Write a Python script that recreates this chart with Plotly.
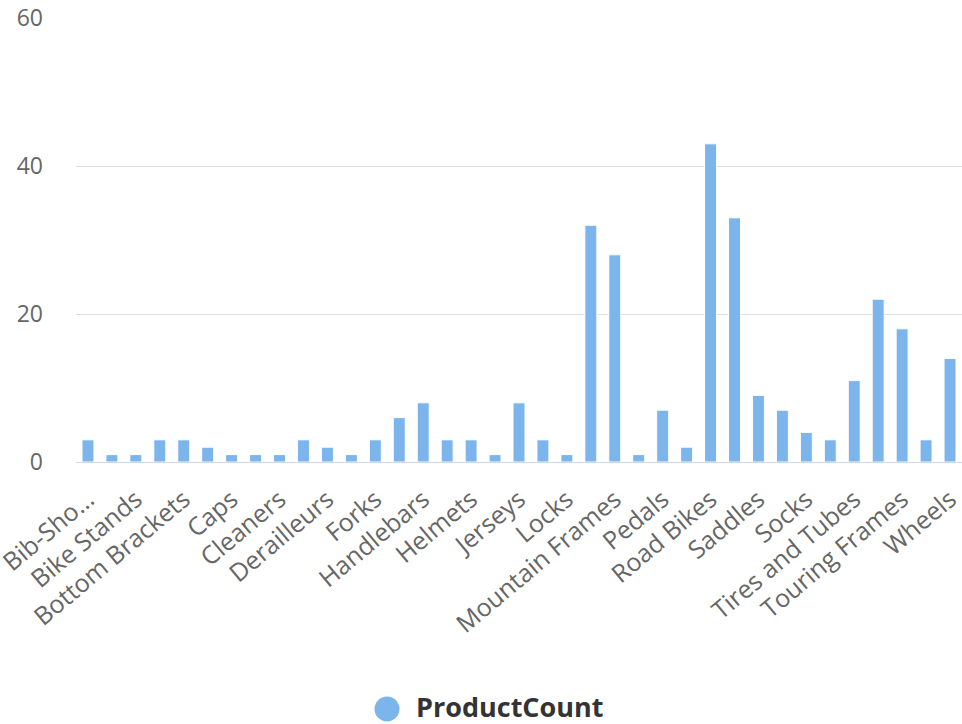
import plotly.graph_objects as go

# Product subcategories and how many products each holds
subcategories = [
    "Bib-Shorts", "Bike Racks", "Bike Stands", "Bottles and Cages", "Bottom Brackets",
    "Brakes", "Caps", "Chains", "Cleaners", "Cranksets", "Derailleurs", "Fenders",
    "Forks", "Gloves", "Handlebars", "Headsets", "Helmets", "Hydration Packs",
    "Jerseys", "Lights", "Locks", "Mountain Bikes", "Mountain Frames", "Panniers",
    "Pedals", "Pumps", "Road Bikes", "Road Frames", "Saddles", "Shorts", "Socks",
    "Tights", "Tires and Tubes", "Touring Bikes", "Touring Frames", "Vests", "Wheels",
]
product_count = [
    3, 1, 1, 3, 3,
    2, 1, 1, 1, 3, 2, 1,
    3, 6, 8, 3, 3, 1,
    8, 3, 1, 32, 28, 1,
    7, 2, 43, 33, 9, 7, 4,
    3, 11, 22, 18, 3, 14,
]
series_name = "ProductCount"

# Every other category gets a label; long ones are cut short with an ellipsis
label_positions = subcategories[::2]
label_texts = ["Bib-Sho…"] + label_positions[1:]

y_ticks = [0, 20, 40, 60]

bar_color = "#7cb5ec"
font_family = "Open Sans, Segoe UI, sans-serif"

fig = go.Figure()
fig.add_trace(go.Bar(
    x=subcategories,
    y=product_count,
    name=series_name,
    marker=dict(color=bar_color, line=dict(color="#ffffff", width=1)),
    showlegend=False,
))

fig.update_layout(
    width=962,
    height=724,
    margin=dict(l=76, r=0, t=18, b=262),
    paper_bgcolor="#ffffff",
    plot_bgcolor="#ffffff",
    bargap=0.5,
    font=dict(family=font_family, size=22, color="#666666"),
    xaxis=dict(
        type="category",
        tickmode="array",
        tickvals=label_positions,
        ticktext=label_texts,
        tickangle=-40,
        tickfont=dict(size=25, color="#666666"),
        showgrid=False,
        showline=True,
        linecolor="#ccd6eb",
        linewidth=1,
        ticks="",
        ticklabelstandoff=12,
        automargin=False,
        range=[-0.5, len(subcategories) - 0.5],
    ),
    yaxis=dict(
        range=[0, 60],
        tickvals=y_ticks,
        tickfont=dict(size=23, color="#666666"),
        showgrid=True,
        gridcolor="#dedede",
        gridwidth=1,
        zeroline=False,
        showline=False,
        ticks="",
        ticklabelstandoff=32,
        automargin=False,
    ),
)

# Legend entry: round swatch with a bold series name beneath the plot
fig.add_shape(
    type="circle",
    xref="paper", yref="paper",
    x0=0.3369, x1=0.3651, y0=-0.5845, y1=-0.5282,
    fillcolor=bar_color,
    line=dict(width=0),
)
fig.add_annotation(
    xref="paper", yref="paper",
    x=0.3826, y=-0.5507,
    xanchor="left", yanchor="middle",
    text=f"<b>{series_name}</b>",
    showarrow=False,
    borderpad=0,
    font=dict(family=font_family, size=27, color="#333333"),
)

fig.write_html("out.html")
